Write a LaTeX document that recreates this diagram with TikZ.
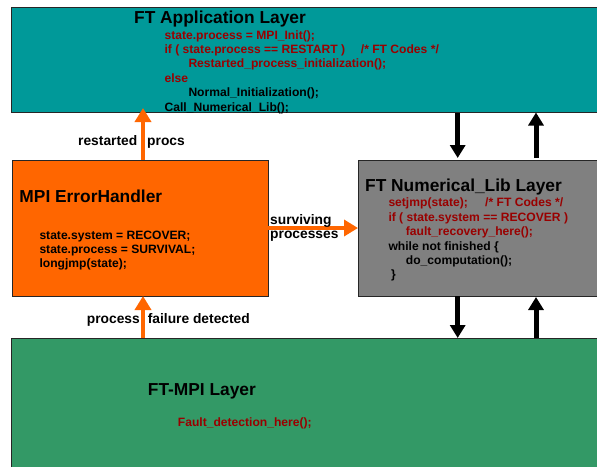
\documentclass[tikz,border=0pt]{standalone}
\usepackage{fontspec}
\setmainfont{Liberation Sans}
\usetikzlibrary{arrows.meta}
\definecolor{appteal}{HTML}{009999}
\definecolor{errorange}{HTML}{FF6600}
\definecolor{libgray}{HTML}{808080}
\definecolor{mpigreen}{HTML}{339966}
\definecolor{codered}{HTML}{990000}
\begin{document}
\begin{tikzpicture}[x=1pt,y=-1pt,
  layerbox/.style={draw=black!85,line width=0.8pt,rectangle,inner sep=0pt,outer sep=0pt,anchor=north west},
  titletext/.style={font=\bfseries\fontsize{17.35}{20}\selectfont,anchor=base west,inner sep=0pt},
  codetext/.style={font=\bfseries\fontsize{12.1}{14.4}\selectfont,anchor=base west,inner sep=0pt},
  redcode/.style={codetext,text=codered},
  lbltext/.style={font=\bfseries\fontsize{13.8}{16}\selectfont,anchor=base west,inner sep=0pt},
  orarrow/.style={draw=errorange,line width=4.5pt,-{Triangle[width=16pt,length=14pt]}},
  blkarrow/.style={draw=black,line width=5pt,-{Triangle[width=15pt,length=13pt]}}
]
\useasboundingbox (0,0) rectangle (597,466);
\clip (0,0) rectangle (597,466);
\fill[white] (0,0) rectangle (597,466);

% layers
\node[layerbox,fill=appteal,minimum width=600pt,minimum height=105.5pt] (app) at (11,7) {};
\node[layerbox,fill=errorange,minimum width=256pt,minimum height=136pt] (err) at (12,160) {};
\node[layerbox,fill=libgray,minimum width=260pt,minimum height=136pt] (num) at (358,160) {};
\node[layerbox,fill=mpigreen,minimum width=600pt,minimum height=140pt] (mpi) at (11,338) {};

% connectors
\draw[orarrow] ([xshift=131pt]err.north west) -- ([xshift=132pt,yshift=4.5pt]app.south west);
\draw[orarrow] ([xshift=132pt]mpi.north west) -- ([xshift=131pt]err.south west);
\draw[orarrow] (err.east) -- (num.west);
\draw[blkarrow] ([xshift=446.7pt]app.south west) -- ([xshift=99.7pt,yshift=2pt]num.north west);
\draw[blkarrow] ([xshift=178pt,yshift=2pt]num.north west) -- ([xshift=525pt]app.south west);
\draw[blkarrow] ([xshift=99.7pt]num.south west) -- ([xshift=446.7pt]mpi.north west);
\draw[blkarrow] ([xshift=525pt]mpi.north west) -- ([xshift=178pt,yshift=-1pt]num.south west);

% FT Application Layer
\node[titletext] (apptitle) at (134,23) {FT Application Layer};
\node[redcode] (a1) at (164.4,39) {state.process = MPI\_Init();};
\node[redcode] (a2) at (164.4,53.4) {if ( state.process == RESTART )};
\node[redcode] (a2c) at (360.7,53.4) {/* FT Codes */};
\node[redcode] (a3) at (188.3,67.8) {Restarted\_process\_initialization();};
\node[redcode] (a4) at (164.4,82.2) {else};
\node[codetext] (a5) at (188.3,96.6) {Normal\_Initialization();};
\node[codetext] (a6) at (164.4,111) {Call\_Numerical\_Lib();};

% MPI ErrorHandler
\node[titletext] (errtitle) at (19.3,202) {MPI ErrorHandler};
\node[codetext] (e1) at (39.3,239.3) {state.system = RECOVER;};
\node[codetext] (e2) at (39.3,253.5) {state.process = SURVIVAL;};
\node[codetext] (e3) at (39.3,267.5) {longjmp(state);};

% FT Numerical_Lib Layer
\node[titletext] (numtitle) at (365,191) {FT Numerical\_Lib Layer};
\node[redcode] (n1) at (388.3,206.7) {setjmp(state);};
\node[redcode] (n1c) at (485,206.7) {/* FT Codes */};
\node[redcode] (n2) at (388.3,221.1) {if ( state.system == RECOVER )};
\node[redcode] (n3) at (405.7,235.5) {fault\_recovery\_here();};
\node[codetext] (n4) at (388.3,250) {while not finished \{};
\node[codetext] (n5) at (405.7,264.4) {do\_computation();};
\node[codetext] (n6) at (391,278.8) {\}};

% FT-MPI Layer
\node[titletext] (mpititle) at (147.7,395.7) {FT-MPI Layer};
\node[redcode] (m1) at (177.7,426) {Fault\_detection\_here();};

% connector labels
\node[lbltext] (restarted) at (78,145) {restarted\hspace{10pt}procs};
\node[lbltext] (surv1) at (270,224) {surviving};
\node[lbltext] (surv2) at (270,238.3) {processes};
\node[lbltext] (failure) at (86.7,323) {process\hspace{8pt}failure detected};
\end{tikzpicture}
\end{document}
